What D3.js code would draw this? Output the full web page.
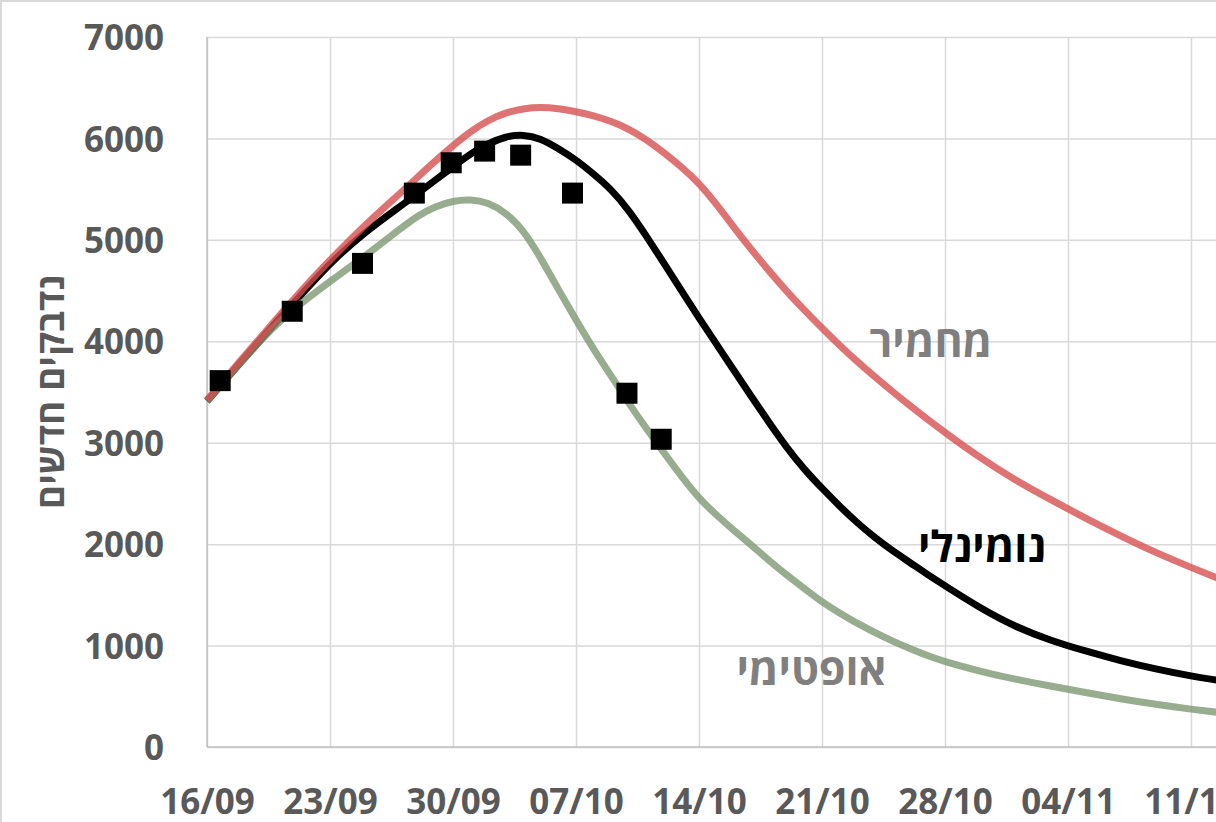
<!DOCTYPE html>
<html>
<head>
<meta charset="utf-8">
<script src="https://cdn.jsdelivr.net/npm/d3@7"></script>
<style>
    body { margin: 0; background: #fff; }
    svg { display: block; }
    svg text { font-family: "Open Sans", "Liberation Sans", "DejaVu Sans", sans-serif; }
</style>
</head>
<body>
<svg id="chart" width="1216" height="822"></svg>
<script>
// ימים מאז 16/09
var days = [0, 2, 4, 6, 7, 9, 11, 12, 13, 14, 15, 16, 17, 18, 19, 20, 21, 22, 23, 24, 25, 26, 27, 28,
    29, 30, 31, 32, 33, 34, 35, 36, 37, 38, 39, 40, 41, 42, 44, 46, 48, 50, 52, 54, 56, 58];

// תרחיש מחמיר
var severe = [3420, 3830, 4230, 4620, 4800, 5150, 5460, 5620, 5780, 5930, 6070, 6180, 6255, 6295, 6310, 6295, 6265, 6225, 6170, 6095, 5990, 5860, 5720, 5560,
    5350, 5120, 4900, 4690, 4490, 4305, 4130, 3960, 3800, 3650, 3505, 3365, 3230, 3100, 2850, 2630, 2440, 2255, 2080, 1915, 1770, 1630];

// תרחיש נומינלי
var nominal = [3410, 3810, 4200, 4580, 4770, 5080, 5330, 5460, 5590, 5720, 5850, 5950, 6020, 6040, 6000, 5900, 5790, 5650, 5500, 5295, 5040, 4770, 4500, 4230,
    3970, 3710, 3450, 3195, 2950, 2735, 2550, 2375, 2210, 2065, 1935, 1820, 1700, 1590, 1370, 1185, 1050, 945, 850, 768, 698, 645];

// תרחיש אופטימי
var optimistic = [3410, 3810, 4190, 4460, 4590, 4840, 5110, 5240, 5330, 5385, 5400, 5370, 5270, 5100, 4820, 4510, 4210, 3920, 3660, 3390, 3140, 2900, 2670, 2450,
    2285, 2133, 1988, 1836, 1693, 1562, 1430, 1320, 1220, 1130, 1045, 970, 900, 840, 745, 668, 600, 537, 475, 420, 372, 332];

// נתונים בפועל (ריבועים)
var obsDays = [0.75, 4.85, 8.85, 11.8, 13.9, 15.8, 17.85, 20.8, 23.9, 25.85];
var obsValues = [3612, 4296, 4768, 5461, 5760, 5875, 5835, 5461, 3488, 3034];

var tickDays = [0, 7, 14, 21, 28, 35, 42, 49, 56, 63];
var tickLabels = ["16/09", "23/09", "30/09", "07/10", "14/10", "21/10", "28/10", "04/11", "11/11", "18/11"];
var yTicks = [0, 1000, 2000, 3000, 4000, 5000, 6000, 7000];

var svg = d3.select("#chart");
var plotLeft = 207, plotTop = 37, plotBottom = 747;

var x = d3.scaleLinear().domain([0, 56]).range([plotLeft, 1191]);
var y = d3.scaleLinear().domain([0, 7000]).range([plotBottom, plotTop]);

// מסגרת
svg.append("path")
    .attr("d", "M1,822V1H1216")
    .attr("fill", "none")
    .attr("stroke", "#d9d9d9")
    .attr("stroke-width", 2);

// קווי רשת אופקיים + תוויות ציר y
var yAxis = svg.append("g")
    .attr("transform", "translate(" + plotLeft + ",0)")
    .call(d3.axisLeft(y).tickValues(yTicks).tickFormat(d3.format("d"))
        .tickSize(-(x(62) - plotLeft)).tickPadding(43));
yAxis.attr("font-family", null);
yAxis.select(".domain").remove();
yAxis.selectAll(".tick line").attr("stroke", "#d9d9d9").attr("stroke-width", 1.5);
yAxis.selectAll(".tick text")
    .attr("fill", "#595959")
    .style("font-size", "35px")
    .style("font-weight", "bold")
    .attr("dy", "0.36em");

// קווי רשת אנכיים + תוויות ציר x
var xAxis = svg.append("g")
    .attr("transform", "translate(0," + plotBottom + ")")
    .call(d3.axisBottom(x).tickValues(tickDays)
        .tickFormat(function (d, i) { return tickLabels[i]; })
        .tickSize(-(plotBottom - plotTop)).tickPadding(0));
xAxis.attr("font-family", null);
xAxis.select(".domain").remove();
xAxis.selectAll(".tick line").attr("stroke", "#d9d9d9").attr("stroke-width", 1.5);
xAxis.selectAll(".tick text")
    .attr("fill", "#595959")
    .style("font-size", "35px")
    .style("font-weight", "bold")
    .attr("y", 67)
    .attr("dy", 0);

// צירים
svg.append("line").attr("x1", plotLeft).attr("x2", plotLeft).attr("y1", plotTop).attr("y2", plotBottom)
    .attr("stroke", "#bfbfbf").attr("stroke-width", 1.5);
svg.append("line").attr("x1", plotLeft).attr("x2", 1216).attr("y1", plotBottom).attr("y2", plotBottom)
    .attr("stroke", "#bfbfbf").attr("stroke-width", 1.5);

// כותרת ציר y
svg.append("text")
    .attr("transform", "translate(64," + ((plotTop + plotBottom) / 2) + ") rotate(-90)")
    .attr("text-anchor", "middle")
    .attr("fill", "#595959")
    .style("font-size", "37px")
    .style("font-weight", "bold")
    .text("נדבקים חדשים");

// קווי התרחישים
function drawLine(values, color, opacity) {
    var line = d3.line()
        .x(function (d, i) { return x(days[i]); })
        .y(function (d) { return y(d); })
        .curve(d3.curveBasis);
    svg.append("path")
        .datum(values)
        .attr("d", line)
        .attr("fill", "none")
        .attr("stroke", color)
        .attr("stroke-opacity", opacity)
        .attr("stroke-width", 7)
        .attr("stroke-linejoin", "round");
}
drawLine(nominal, "#000000", 1);
drawLine(optimistic, "rgb(126,151,115)", 0.8);
drawLine(severe, "rgb(215,80,80)", 0.8);

// ריבועים - נתונים בפועל
var sq = 21;
svg.append("g").selectAll("rect")
    .data(obsValues)
    .enter().append("rect")
    .attr("x", function (d, i) { return x(obsDays[i]) - sq / 2; })
    .attr("y", function (d) { return y(d) - sq / 2; })
    .attr("width", sq)
    .attr("height", sq)
    .attr("fill", "#000");

// תוויות התרחישים
function addLabel(txt, day, val, color) {
    svg.append("text")
        .attr("x", x(day))
        .attr("y", y(val))
        .attr("text-anchor", "middle")
        .attr("fill", color)
        .style("font-size", "43px")
        .style("font-weight", "bold")
        .text(txt);
}
addLabel("מחמיר", 41.2, 3850, "#7f7f7f");
addLabel("נומינלי", 44.1, 1820, "#000000");
addLabel("אופטימי", 34.4, 610, "#7f7f7f");
</script>
</body>
</html>
